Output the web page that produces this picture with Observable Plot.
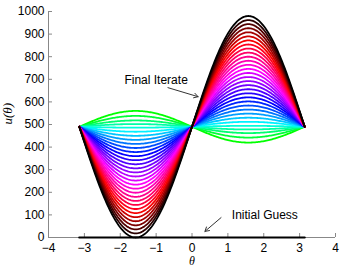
<!DOCTYPE html>
<html><head><meta charset="utf-8">
<script src="https://cdn.jsdelivr.net/npm/d3@7"></script>
<script src="https://cdn.jsdelivr.net/npm/@observablehq/plot@0.6"></script>
<style>body{margin:0;background:#fff}svg{font-family:"Liberation Sans",Arial,sans-serif}</style>
</head><body><div id="chart"></div>
<script>
// Amplitude of each iterate (u = baseline + A sin θ), first (green) to final (black)
const amplitudes = [-70, -48, -28, -12, 4, 22, 40, 58, 76, 94, 112, 130, 148, 166, 184, 202, 220, 238, 256, 274, 292, 310, 328, 346, 364, 382, 400, 418, 436, 454, 472, 490];
const baseline = 490;
const thetaMin = -Math.PI, thetaMax = Math.PI;
const initialGuess = [{x: -Math.PI, y: 0}, {x: Math.PI, y: 0}];
const colorStops = [0, 0.15, 0.35, 0.58, 0.8, 1];
const colorNames = ["#00ff00", "#00ffff", "#0000ff", "#ff00ff", "#ff0000", "#000000"];
const xTicks = [-4, -3, -2, -1, 0, 1, 2, 3, 4];
const yTicks = [0, 100, 200, 300, 400, 500, 600, 700, 800, 900, 1000];
const labels = [{x: -1.0, y: 698, text: "Final Iterate"}, {x: 2.03, y: 97, text: "Initial Guess"}];
const arrows = [{x1: -0.67, y1: 663, x2: 0.17, y2: 623}, {x1: 0.81, y1: 88, x2: 0.36, y2: 27}];

const color = d3.scaleLinear().domain(colorStops).range(colorNames).interpolate(d3.interpolateRgb);
const thetas = d3.range(0, 201).map(i => thetaMin + (thetaMax - thetaMin) * i / 200);
const rows = [];
amplitudes.forEach((A, k) => {
  thetas.forEach(t => rows.push({k, x: t, y: baseline + A * Math.sin(t), c: color(k / (amplitudes.length - 1))}));
});

const plot = Plot.plot({
  width: 342, height: 267,
  marginLeft: 48, marginRight: 7, marginTop: 11, marginBottom: 30,
  x: {domain: [-4, 4]},
  y: {domain: [0, 1000]},
  style: {fontSize: "12px", color: "#000", background: "#fff"},
  marks: [
    Plot.ruleY([0], {stroke: "#888", strokeWidth: 1}),
    Plot.ruleX([-4], {stroke: "#888", strokeWidth: 1}),
    Plot.axisX({ticks: xTicks, tickSize: -4, tickPadding: 10, tickFormat: d3.format("d"), label: null, stroke: "#888", fontSize: 12}),
    Plot.axisY({ticks: yTicks, tickSize: -4, tickPadding: 8, tickFormat: d3.format("d"), label: null, stroke: "#888", fontSize: 12}),
    Plot.line(rows, {x: "x", y: "y", z: "k", stroke: "c", strokeWidth: 1.8}),
    Plot.line(initialGuess, {x: "x", y: "y", stroke: "#000", strokeWidth: 2.2}),
    Plot.arrow(arrows, {x1: "x1", y1: "y1", x2: "x2", y2: "y2", stroke: "#333", strokeWidth: 1, headLength: 7}),
    Plot.text(labels, {x: "x", y: "y", text: "text", fontSize: 12, fill: "#000"}),
    Plot.text(["θ"], {frameAnchor: "bottom", dy: 27, fontStyle: "italic", fontFamily: "Liberation Serif, serif", fontSize: 12}),
    Plot.text(["u(θ)"], {frameAnchor: "left", rotate: -90, dx: -41, fontStyle: "italic", fontFamily: "Liberation Serif, serif", fontSize: 13})
  ]
});
document.getElementById("chart").appendChild(plot);
</script></body></html>
